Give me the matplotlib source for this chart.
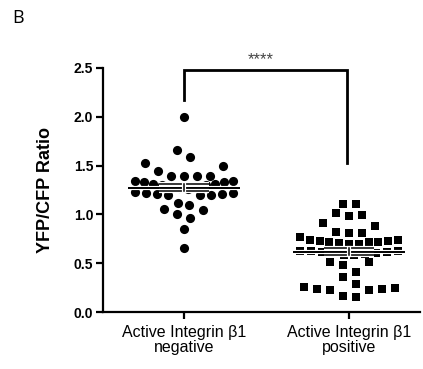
import numpy as np
import matplotlib
matplotlib.use("Agg")
import matplotlib.pyplot as plt
from matplotlib import patheffects as pe

# YFP/CFP ratio per cell, split by active integrin beta1 status
group_labels = ["Active Integrin β1\nnegative", "Active Integrin β1\npositive"]
negative = [2.00, 1.66, 1.59, 1.53, 1.50, 1.44, 1.39, 1.39, 1.39, 1.39,
            1.34, 1.34, 1.33, 1.33, 1.31, 1.31, 1.30, 1.30, 1.29, 1.28, 1.27, 1.26,
            1.23, 1.22, 1.22, 1.21, 1.21, 1.20, 1.20, 1.20,
            1.12, 1.10, 1.055, 1.045, 1.00, 0.96, 0.85, 0.66]
positive = [1.11, 1.11, 1.01, 0.99, 0.98, 0.915, 0.88, 0.82, 0.81, 0.81,
            0.765, 0.74, 0.73, 0.72, 0.72, 0.71, 0.70, 0.70, 0.72, 0.73, 0.74,
            0.62, 0.62, 0.61, 0.60, 0.60, 0.59, 0.58, 0.58, 0.62, 0.61,
            0.515, 0.48, 0.515, 0.41, 0.36, 0.29,
            0.24, 0.235, 0.23, 0.23, 0.245, 0.26, 0.15, 0.165]
yticks = [0.0, 0.5, 1.0, 1.5, 2.0, 2.5]
ylabel = "YFP/CFP Ratio"
significance = "****"
panel = "B"

plt.rcParams["font.family"] = ["Liberation Sans", "DejaVu Sans"]

fig = plt.figure(figsize=(4.23, 3.69), dpi=100)
ax = fig.add_axes([103 / 423, 57 / 369, 317 / 423, 244 / 369])
ax.set_xlim(0.51, 2.43)
ax.set_ylim(0, 2.5)


def row_scatter_x(values, center, bin_origin, bin_width, step_px, max_half_px):
    """Scatter-column layout: values are grouped into horizontal rows
    (fixed-height bins); within a row the lowest value sits in the middle
    and the higher ones fan out alternately to the right and left."""
    vals = np.asarray(values, dtype=float)
    px_per_unit = (ax.transData.transform((1, 0))[0]
                   - ax.transData.transform((0, 0))[0])
    bins = np.floor((vals - bin_origin) / bin_width).astype(int)
    xs = np.full(len(vals), float(center))
    for b in np.unique(bins):
        idx = np.where(bins == b)[0]
        idx = idx[np.argsort(vals[idx], kind="stable")]
        n = len(idx)
        step = step_px if n < 2 else min(step_px, 2 * max_half_px / (n - 1))
        if n % 2:
            slots = [0.0]
            for k in range(1, n // 2 + 1):
                slots += [k * step, -k * step]
        else:
            slots = []
            for k in range(n // 2):
                slots += [(k + 0.5) * step, -(k + 0.5) * step]
        for i, s in zip(idx, slots[:n]):
            xs[i] = center + s / px_per_unit
    return xs


series = [
    (negative, 1, "o", 6.6, 1.385, 0.15),
    (positive, 2, "s", 5.9, 0.145, 0.13),
]
for vals, pos, marker, ms, origin, width in series:
    xs = row_scatter_x(vals, pos, origin, width, 13.0, 49.0)
    ax.plot(xs, vals, linestyle="none", marker=marker, markersize=ms,
            color="black", markeredgewidth=0, zorder=2)
    v = np.asarray(vals)
    mean = v.mean()
    sem = v.std(ddof=1) / np.sqrt(len(v))
    outline = [pe.Stroke(linewidth=3.0, foreground="white"), pe.Normal()]
    ax.plot([pos - 0.34, pos + 0.34], [mean, mean], color="black", lw=1.4,
            zorder=4, path_effects=outline, solid_capstyle="butt")
    for yv in (mean - sem, mean + sem):
        ax.plot([pos - 0.15, pos + 0.15], [yv, yv], color="black", lw=1.1,
                zorder=4, path_effects=outline, solid_capstyle="butt")
    ax.plot([pos, pos], [mean - sem, mean + sem], color="black", lw=1.1,
            zorder=4, path_effects=outline)

# significance bracket
ax.plot([1, 1, 1.99, 1.99], [2.17, 2.48, 2.48, 1.53], color="black", lw=2.0,
        clip_on=False, zorder=5, solid_joinstyle="miter")
ax.text(1.465, 2.505, significance, ha="center", va="bottom", fontsize=12,
        color="#444444", clip_on=False)

ax.set_xticks([1, 2])
ax.set_xticklabels(group_labels, fontsize=11.5, linespacing=1.05)
ax.set_yticks(yticks)
ax.set_yticklabels([f"{t:.1f}" for t in yticks], fontsize=10, fontweight="bold")
ax.set_ylabel(ylabel, fontsize=13, fontweight="bold", labelpad=14)

for side in ("top", "right"):
    ax.spines[side].set_visible(False)
for side in ("left", "bottom"):
    ax.spines[side].set_linewidth(1.6)
ax.tick_params(axis="both", direction="out", length=5, width=1.6, pad=2)
ax.tick_params(axis="x", pad=4)

fig.text(12 / 423, 1 - 23 / 369, panel, fontsize=13, ha="left", va="baseline",
         family=["Open Sans", "DejaVu Sans"])

fig.savefig("out.png", dpi=100)
